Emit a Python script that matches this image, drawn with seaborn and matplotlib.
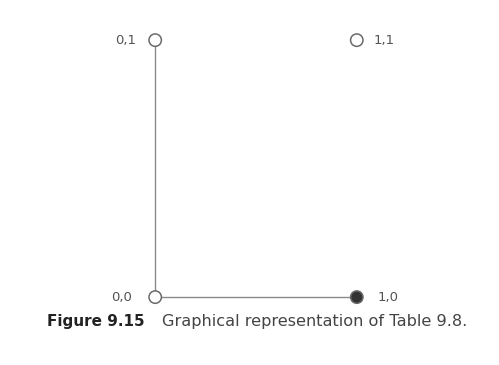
import matplotlib
matplotlib.use("Agg")
import matplotlib.pyplot as plt
import pandas as pd
import seaborn as sns

sns.set_style("white")

# data: the four input combinations from Table 9.8
x_vals = [0, 0, 1, 1]
y_vals = [0, 1, 1, 0]
point_labels = ["0,0", "0,1", "1,1", "1,0"]
outputs = ["open", "open", "open", "filled"]
caption_bold = "Figure 9.15"
caption_text = "Graphical representation of Table 9.8."

df = pd.DataFrame({"x": x_vals, "y": y_vals, "label": point_labels, "out": outputs})

fig = plt.figure(figsize=(4.99, 3.65), dpi=100)
ax = fig.add_axes([0.311, 0.186, 0.404, 0.704])

line_col = "#8a8a8a"
palette = {"open": "white", "filled": "#333333"}

sns.scatterplot(data=df, x="x", y="y", hue="out", palette=palette,
                s=80, edgecolor="#6a6a6a", linewidth=1.1, legend=False,
                zorder=5, clip_on=False, ax=ax)

# label offsets (points) per point
offsets = {"0,0": (-17, 0, "right"), "0,1": (-14, 0, "right"),
           "1,1": (12, 0, "left"), "1,0": (15, 0, "left")}
for _, r in df.iterrows():
    dx, dy, ha = offsets[r["label"]]
    ax.annotate(r["label"], (r["x"], r["y"]), xytext=(dx, dy),
                textcoords="offset points", ha=ha, va="center",
                fontsize=9.5, color="#555555")

ax.set_xlim(0, 1)
ax.set_ylim(0, 1)
ax.set_xticks([])
ax.set_yticks([])
ax.set_xlabel("")
ax.set_ylabel("")
sns.despine(ax=ax, top=True, right=True)
for side in ["left", "bottom"]:
    ax.spines[side].set_color(line_col)
    ax.spines[side].set_linewidth(1.0)

# caption
fig.text(0.094, 0.118, caption_bold, fontsize=11, fontweight="bold",
         color="#222222", ha="left", va="center")
fig.text(0.325, 0.118, caption_text, fontsize=11.6, color="#444444",
         ha="left", va="center")

plt.savefig("out.png", dpi=100)
